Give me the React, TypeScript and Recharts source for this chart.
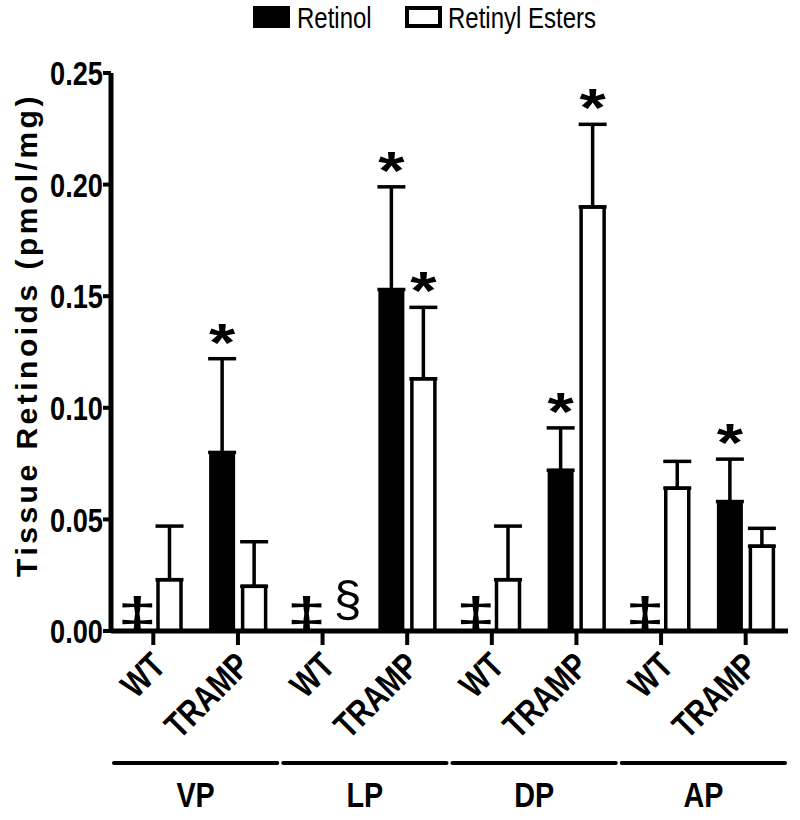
import { BarChart, Bar, XAxis, YAxis, ErrorBar, LabelList, Legend } from 'recharts'

const genotypes = ['WT', 'TRAMP', 'WT', 'TRAMP', 'WT', 'TRAMP', 'WT', 'TRAMP']
const regions = ['VP', 'VP', 'LP', 'LP', 'DP', 'DP', 'AP', 'AP']
const retinol = [0, 0.08, 0, 0.153, 0, 0.072, 0, 0.058]
const retinolSem = [null, 0.042, null, 0.046, null, 0.019, null, 0.019]
const retinylEsters = [0.023, 0.02, 0, 0.113, 0.023, 0.19, 0.064, 0.038]
const retinylEstersSem = [0.024, 0.02, null, 0.032, 0.024, 0.037, 0.012, 0.008]
// '*' significant vs WT, '‡' not detected (retinol), '§' not detected (esters)
const retinolMarks = ['‡', '*', '‡', '*', '‡', '*', '‡', '*']
const retinylEstersMarks = ['', '', '§', '*', '', '*', '', '']
const yTicks = [0, 0.05, 0.1, 0.15, 0.2, 0.25]

const data = genotypes.map((g, i) => ({
  idx: i,
  genotype: g,
  region: regions[i],
  retinol: retinol[i],
  retinolErr: retinolSem[i] == null ? null : [0, retinolSem[i]],
  retinylEsters: retinylEsters[i],
  retinylEstersErr: retinylEstersSem[i] == null ? null : [0, retinylEstersSem[i]],
}))

const FONT = '"Liberation Sans", Arial, sans-serif'
const BAR_SIZE = 23
const BAR_GAP = 9
const TICK_SIZE = 14
const HALF_STEP = (BAR_SIZE + BAR_GAP) / 2

const YTick = ({ x, y, payload }: any) => (
  <g transform={`translate(${x},${y}) scale(0.8,1)`}>
    <text textAnchor="end" dy="0.36em" fontSize={34} fontWeight="bold" fontFamily={FONT} fill="#000">
      {Number(payload.value).toFixed(2)}
    </text>
  </g>
)

// genotype label plus the "not detected" marks that sit on the axis
const GenotypeTick = ({ x, y, payload, index }: any) => {
  const i = payload.index ?? index
  const axisY = y - TICK_SIZE
  return (
    <g>
      <g transform={`translate(${x + 14},${y + 23}) rotate(-45) scale(0.8,1)`}>
        <text textAnchor="end" fontSize={36} fontWeight="bold" fontFamily={FONT} fill="#000">
          {payload.value}
        </text>
      </g>
      {retinol[i] === 0 && retinolMarks[i] ? (
        <g transform={`translate(${x - HALF_STEP},${axisY - 3}) scale(1.6,1)`}>
          <text textAnchor="middle" fontSize={44} fontWeight="bold" fontFamily={FONT} fill="#000">
            {retinolMarks[i]}
          </text>
        </g>
      ) : null}
      {retinylEsters[i] === 0 && retinylEstersMarks[i] ? (
        <text x={x + HALF_STEP + 9} y={axisY - 15} textAnchor="middle" fontSize={50} fontFamily={FONT} fill="#000">
          {retinylEstersMarks[i]}
        </text>
      ) : null}
    </g>
  )
}

const RegionTick = ({ x, y, payload }: any) => {
  const half = payload.offset ?? 84
  return (
    <g>
      <line x1={x - half + 3} x2={x + half - 3} y1={y + 22} y2={y + 22} stroke="#000" strokeWidth={4} strokeLinecap="round" />
      <g transform={`translate(${x},${y + 66}) scale(0.8,1)`}>
        <text textAnchor="middle" fontSize={36} fontWeight="bold" fontFamily={FONT} fill="#000">
          {payload.value}
        </text>
      </g>
    </g>
  )
}

const YLabel = ({ viewBox }: any) => {
  const cy = viewBox.y + viewBox.height / 2 - 17
  return (
    <text
      transform={`translate(37,${cy}) rotate(-90)`}
      textAnchor="middle"
      fontSize={30}
      fontWeight="bold"
      letterSpacing={3.5}
      fontFamily={FONT}
      fill="#000"
    >
      Tissue Retinoids (pmol/mg)
    </text>
  )
}

// asterisk above the error bar of a significant bar
const makeStar = (values: number[], marks: string[], sems: (number | null)[]) => (props: any) => {
  const { viewBox, value } = props
  const i = Number(value)
  if (marks[i] !== '*' || !viewBox || !values[i]) return null
  const cx = viewBox.x + viewBox.width / 2
  const perUnit = viewBox.height / values[i]
  const top = viewBox.y - (sems[i] ?? 0) * perUnit
  return (
    <g key={`star-${i}`} transform={`translate(${cx},${top + 2}) scale(1.25,1)`}>
      <text textAnchor="middle" fontSize={54} fontWeight="bold" fontFamily={FONT} fill="#000">
        *
      </text>
    </g>
  )
}

const LegendBox = () => (
  <svg width={800} height={40}>
    <rect x={253} y={5} width={37} height={22} fill="#000" />
    <g transform="translate(297,27) scale(0.8,1)">
      <text fontSize={30} fontFamily={FONT} fill="#000">Retinol</text>
    </g>
    <rect x={407} y={7} width={33} height={18} fill="#fff" stroke="#000" strokeWidth={4} />
    <g transform="translate(448,27) scale(0.8,1)">
      <text fontSize={30} fontFamily={FONT} fill="#000">Retinyl Esters</text>
    </g>
  </svg>
)

export default function App() {
  return (
    <div style={{ position: 'absolute', left: 0, top: 0, background: '#fff' }}>
      <BarChart
        width={800}
        height={820}
        data={data}
        margin={{ top: 73, right: 12, left: 0, bottom: 0 }}
        barSize={BAR_SIZE}
        barGap={BAR_GAP}
      >
        <Legend
          layout="horizontal"
          verticalAlign="middle"
          align="center"
          wrapperStyle={{ top: 1, left: 0, width: 800 }}
          content={<LegendBox />}
        />
        <XAxis
          dataKey="genotype"
          axisLine={{ stroke: '#000', strokeWidth: 5 }}
          tickLine={{ stroke: '#000', strokeWidth: 4 }}
          tickSize={TICK_SIZE}
          tickMargin={0}
          height={110}
          interval={0}
          tick={<GenotypeTick />}
        />
        <XAxis
          xAxisId="region"
          dataKey="region"
          allowDuplicatedCategory={false}
          axisLine={false}
          tickLine={false}
          tickSize={0}
          tickMargin={0}
          height={79}
          interval={0}
          tick={<RegionTick />}
        />
        <YAxis
          width={111}
          domain={[0, 0.25]}
          ticks={yTicks}
          interval={0}
          axisLine={{ stroke: '#000', strokeWidth: 5 }}
          tickLine={{ stroke: '#000', strokeWidth: 4 }}
          tickSize={8}
          tickMargin={0}
          tick={<YTick />}
          label={<YLabel />}
        />
        <Bar dataKey="retinol" name="Retinol" fill="#000" stroke="#000" strokeWidth={3} isAnimationActive={false}>
          <ErrorBar dataKey="retinolErr" width={14} stroke="#000" strokeWidth={3.5} direction="y" />
          <LabelList dataKey="idx" content={makeStar(retinol, retinolMarks, retinolSem)} />
        </Bar>
        <Bar dataKey="retinylEsters" name="Retinyl Esters" fill="#fff" stroke="#000" strokeWidth={3.5} isAnimationActive={false}>
          <ErrorBar dataKey="retinylEstersErr" width={14} stroke="#000" strokeWidth={3.5} direction="y" />
          <LabelList dataKey="idx" content={makeStar(retinylEsters, retinylEstersMarks, retinylEstersSem)} />
        </Bar>
      </BarChart>
    </div>
  )
}
